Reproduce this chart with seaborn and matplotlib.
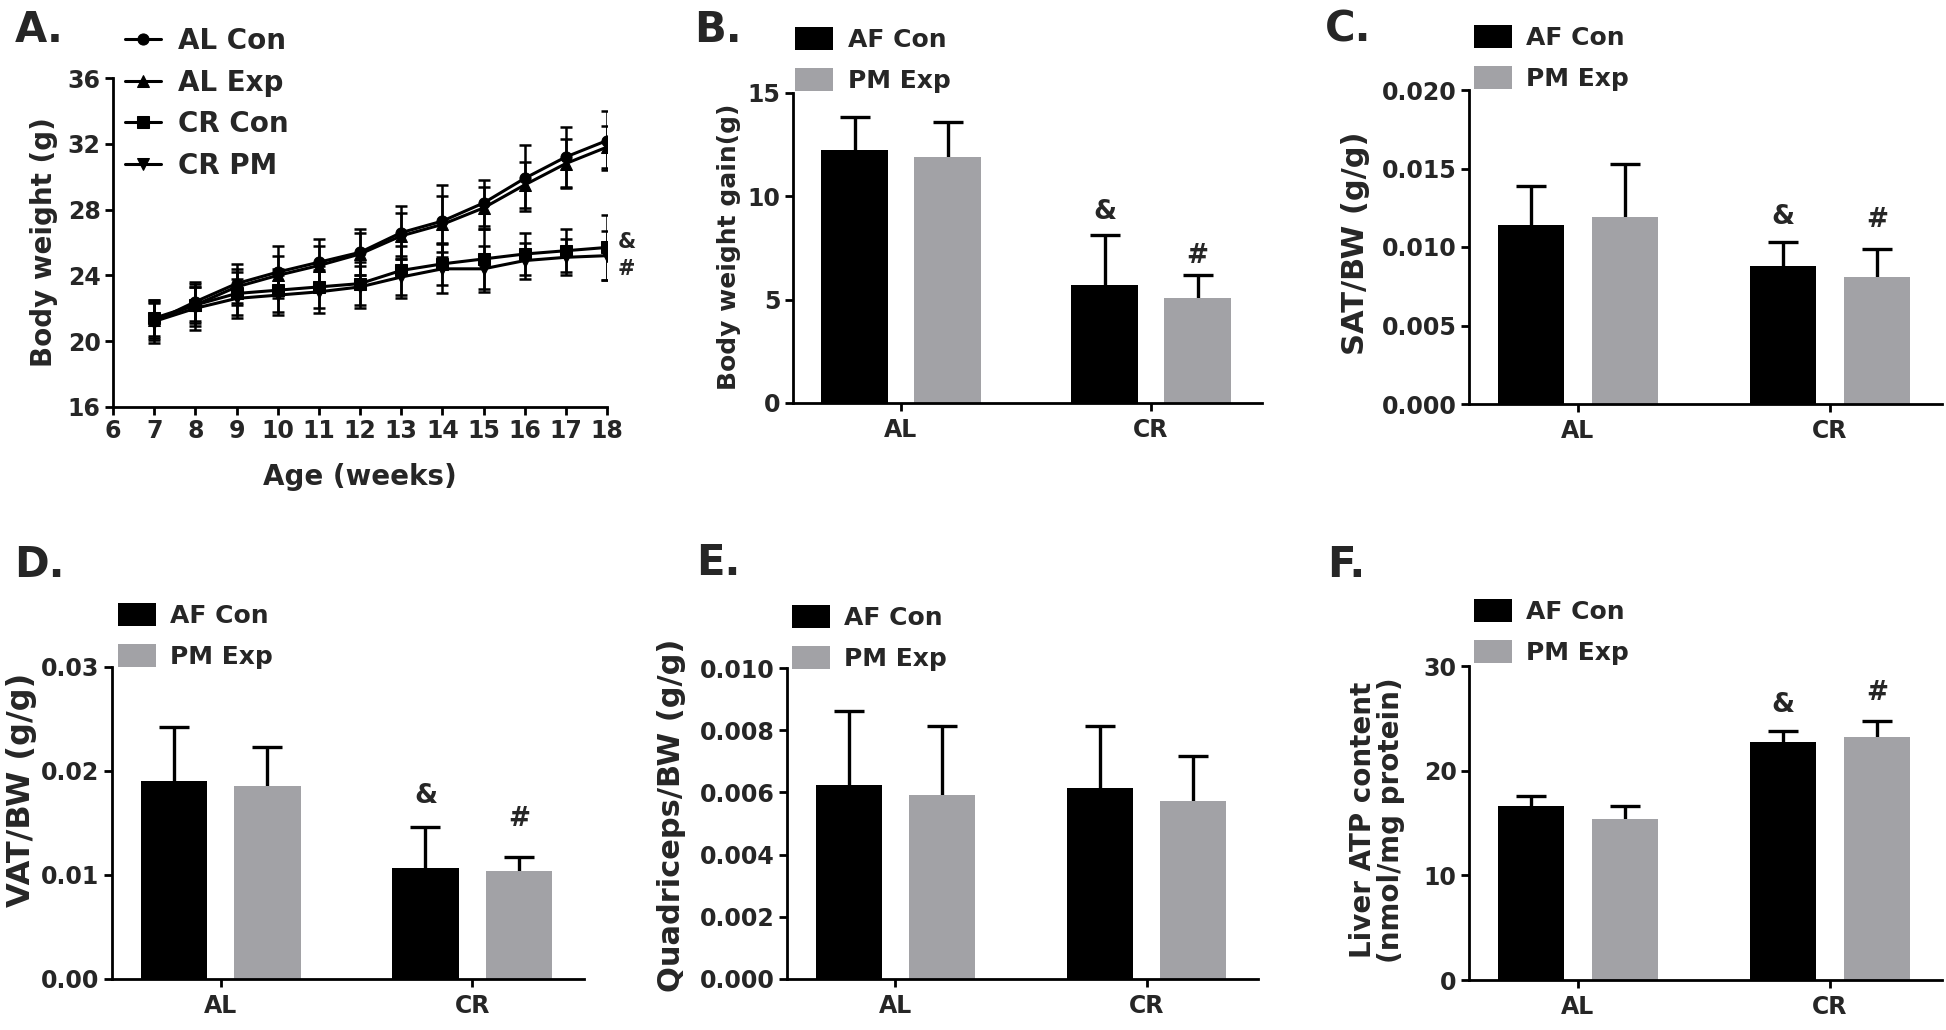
import numpy as np
import pandas as pd
import matplotlib
matplotlib.use("Agg")
import matplotlib.pyplot as plt
import seaborn as sns

# ---- panel A: body weight over time ----
weeks = [7, 8, 9, 10, 11, 12, 13, 14, 15, 16, 17, 18]
al_con = [21.2, 22.4, 23.5, 24.2, 24.8, 25.4, 26.6, 27.3, 28.4, 29.9, 31.2, 32.2]
al_con_sd = [1.3, 1.2, 1.2, 1.6, 1.4, 1.4, 1.6, 2.2, 1.4, 2.0, 1.8, 1.8]
al_exp = [21.3, 22.2, 23.3, 24.0, 24.6, 25.3, 26.4, 27.1, 28.1, 29.5, 30.8, 31.8]
al_exp_sd = [1.1, 1.1, 1.1, 1.2, 1.2, 1.3, 1.4, 1.7, 1.3, 1.4, 1.5, 1.3]
cr_con = [21.4, 22.2, 22.9, 23.1, 23.3, 23.5, 24.3, 24.7, 25.0, 25.3, 25.5, 25.7]
cr_con_sd = [1.1, 1.3, 1.3, 1.3, 1.3, 1.3, 1.5, 1.3, 1.8, 1.3, 1.3, 2.0]
cr_pm = [21.2, 22.0, 22.6, 22.8, 23.0, 23.3, 23.9, 24.4, 24.4, 24.9, 25.1, 25.2]
cr_pm_sd = [1.1, 1.3, 1.2, 1.2, 1.3, 1.3, 1.3, 1.5, 1.4, 1.1, 1.1, 1.5]
line_groups = ["AL Con", "AL Exp", "CR Con", "CR PM"]
line_markers = {"AL Con": "o", "AL Exp": "^", "CR Con": "s", "CR PM": "v"}

# ---- bar panels B-F ----
diets = ["AL", "CR"]
bar_groups = ["AF Con", "PM Exp"]

gain_con = [12.25, 5.7]
gain_con_sd = [1.6, 2.45]
gain_pm = [11.9, 5.1]
gain_pm_sd = [1.7, 1.1]

sat_con = [0.0114, 0.0088]
sat_con_sd = [0.0025, 0.0015]
sat_pm = [0.0119, 0.0081]
sat_pm_sd = [0.0034, 0.0018]

vat_con = [0.0190, 0.0107]
vat_con_sd = [0.0052, 0.0039]
vat_pm = [0.0186, 0.0104]
vat_pm_sd = [0.0037, 0.0013]

quad_con = [0.00623, 0.00613]
quad_con_sd = [0.0024, 0.0020]
quad_pm = [0.00593, 0.00573]
quad_pm_sd = [0.0022, 0.00145]

atp_con = [16.6, 22.75]
atp_con_sd = [1.0, 1.05]
atp_pm = [15.4, 23.2]
atp_pm_sd = [1.25, 1.5]

GRAY = "#a2a2a6"
W, H = 1946, 1030

sns.set_style("ticks")
plt.rcParams["font.family"] = ["DejaVu Sans"]
plt.rcParams["font.weight"] = "bold"
plt.rcParams["axes.labelweight"] = "bold"

fig = plt.figure(figsize=(W / 100, H / 100), dpi=100)


def make_axes(left, right, top, bottom):
    return fig.add_axes([left / W, 1 - bottom / H, (right - left) / W, (bottom - top) / H])


def style_axes(ax, fs=17):
    sns.despine(ax=ax)
    for s in ("left", "bottom"):
        ax.spines[s].set_linewidth(2.0)
        ax.spines[s].set_color("black")
    ax.tick_params(axis="both", width=2.0, length=6, labelsize=fs, pad=3, color="black")
    for lab in ax.get_xticklabels() + ax.get_yticklabels():
        lab.set_fontweight("bold")


def fig_text(x, y, s, **kw):
    fig.text(x / W, 1 - y / H, s, **kw)


# ---------- A ----------
axA = make_axes(113, 607, 78, 407)
rows = []
for g, vals in zip(line_groups, [al_con, al_exp, cr_con, cr_pm]):
    for wk, v in zip(weeks, vals):
        rows.append({"week": wk, "weight": v, "group": g})
df_line = pd.DataFrame(rows)

sds = {"AL Con": al_con_sd, "AL Exp": al_exp_sd, "CR Con": cr_con_sd, "CR PM": cr_pm_sd}
for g in line_groups:
    sub = df_line[df_line["group"] == g]
    axA.errorbar(sub["week"], sub["weight"], yerr=sds[g], fmt="none", ecolor="black",
                 elinewidth=1.8, capsize=4.5, capthick=1.8, zorder=2)

sns.lineplot(data=df_line, x="week", y="weight", style="group", style_order=line_groups,
             markers=line_markers, dashes=False, color="black", linewidth=2.2,
             markersize=8, markeredgecolor="black", errorbar=None, ax=axA, zorder=3)
axA.set_xlim(6, 18)
axA.set_ylim(16, 36)
axA.set_xticks(range(6, 19))
axA.set_yticks([16, 20, 24, 28, 32, 36])
axA.set_xlabel("Age (weeks)", fontsize=20, fontweight="bold", labelpad=14)
axA.set_ylabel("")
style_axes(axA)
axA.text(18.25, 26.0, "&", fontsize=15, fontweight="bold", va="center", ha="left")
axA.text(18.25, 24.4, "#", fontsize=15, fontweight="bold", va="center", ha="left")

legA = axA.get_legend()
hA = legA.legend_handles
lA = [t.get_text() for t in legA.get_texts()]
legA.remove()
fig.legend(hA, lA, loc="upper left", bbox_to_anchor=(125 / W, 1 - 27 / H), frameon=False,
           handlelength=1.3, handletextpad=0.6, labelspacing=0.49,
           borderpad=0, borderaxespad=0, prop={"weight": "bold", "size": 20})
fig_text(44, 242, "Body weight (g)", rotation=90, ha="center", va="center", fontsize=20,
         fontweight="bold")
fig_text(15, 42, "A.", fontsize=30, fontweight="bold", ha="left", va="baseline")


# ---------- bar panels ----------
def bar_panel(box, con, con_sd, pm, pm_sd, ymax, yticks, ylabel, lab_xy, lab_fs, letter,
              letter_xy, leg_xy, marks=None, ticklabels=None):
    ax = make_axes(*box)
    df = pd.DataFrame({
        "diet": diets * 2,
        "group": [bar_groups[0]] * 2 + [bar_groups[1]] * 2,
        "value": con + pm,
    })
    sns.barplot(data=df, x="diet", y="value", hue="group", order=diets, hue_order=bar_groups,
                palette={bar_groups[0]: "black", bar_groups[1]: GRAY}, width=0.744, gap=0.29,
                errorbar=None, linewidth=0, saturation=1, ax=ax, zorder=2)
    for cont, sd in zip(ax.containers, [con_sd, pm_sd]):
        xs = [b.get_x() + b.get_width() / 2 for b in cont]
        hs = [b.get_height() for b in cont]
        _, caps, _ = ax.errorbar(xs, hs, yerr=[[0] * len(sd), sd], fmt="none", ecolor="black",
                                 elinewidth=2.4, capsize=10.5, capthick=2.4, zorder=1)
        # only the upper cap is wanted
        for c in caps:
            if np.allclose(c.get_ydata(), hs):
                c.set_visible(False)
    ax.set_xlim(-0.432, 1.444)
    ax.set_ylim(0, ymax)
    ax.set_yticks(yticks)
    if ticklabels is not None:
        ax.set_yticklabels(ticklabels)
    ax.set_xlabel("")
    ax.set_ylabel("")
    style_axes(ax)
    ax.tick_params(axis="x", pad=5)
    # significance marks above CR bars
    if marks is not None:
        for cont, sym, yv in zip(ax.containers, ["&", "#"], marks):
            b = cont[1]
            ax.text(b.get_x() + b.get_width() / 2, yv, sym, fontsize=19, fontweight="bold",
                    ha="center", va="bottom")
    leg = ax.get_legend()
    hs_, ls_ = leg.legend_handles, [t.get_text() for t in leg.get_texts()]
    leg.remove()
    fig.legend(hs_, ls_, loc="upper left", bbox_to_anchor=(leg_xy[0] / W, 1 - leg_xy[1] / H),
               frameon=False, handlelength=1.5, handleheight=1.05, handletextpad=0.6,
               labelspacing=0.63, borderpad=0, borderaxespad=0,
               prop={"weight": "bold", "size": 18})
    fig_text(lab_xy[0], lab_xy[1], ylabel, rotation=90, ha="center", va="center",
             fontsize=lab_fs, fontweight="bold", multialignment="center", linespacing=1.0)
    fig_text(letter_xy[0], letter_xy[1], letter, fontsize=30, fontweight="bold", ha="left",
             va="baseline")
    return ax


bar_panel((793, 1262, 93, 403), gain_con, gain_con_sd, gain_pm, gain_pm_sd, 15, [0, 5, 10, 15],
          "Body weight gain(g)", (729, 247), 18, "B.", (694, 42), (795, 27), [8.6, 6.5])
bar_panel((1469, 1942, 90, 404), sat_con, sat_con_sd, sat_pm, sat_pm_sd, 0.020,
          [0, 0.005, 0.010, 0.015, 0.020], "SAT/BW (g/g)", (1355, 243), 22, "C.", (1325, 42),
          (1474, 25), [0.0111, 0.0109], ["0.000", "0.005", "0.010", "0.015", "0.020"])
bar_panel((112, 584, 667, 979), vat_con, vat_con_sd, vat_pm, vat_pm_sd, 0.03,
          [0, 0.01, 0.02, 0.03], "VAT/BW (g/g)", (22, 790), 23, "D.", (14, 577),
          (118, 603), [0.0163, 0.0141], ["0.00", "0.01", "0.02", "0.03"])
bar_panel((787, 1258, 668, 979), quad_con, quad_con_sd, quad_pm, quad_pm_sd, 0.010,
          [0, 0.002, 0.004, 0.006, 0.008, 0.010], "Quadriceps/BW (g/g)", (671, 815), 22, "E.",
          (696, 575), (792, 605), None,
          ["0.000", "0.002", "0.004", "0.006", "0.008", "0.010"])
bar_panel((1469, 1942, 666, 980), atp_con, atp_con_sd, atp_pm, atp_pm_sd, 30, [0, 10, 20, 30],
          "Liver ATP content\n(nmol/mg protein)", (1377, 820), 20, "F.", (1327, 577),
          (1474, 599), [25.0, 26.2])

fig.savefig("out.png", dpi=100)
